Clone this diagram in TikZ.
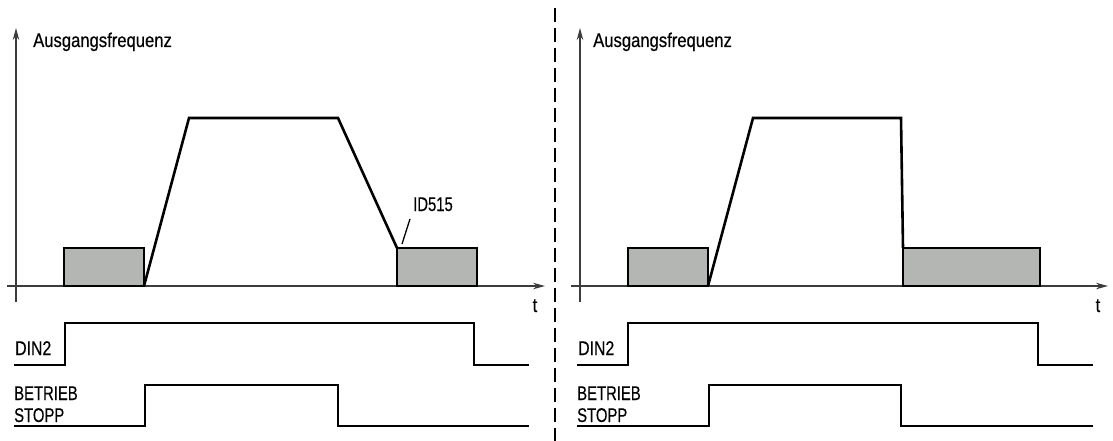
\documentclass[tikz,border=0pt]{standalone}
\usepackage{fontspec}
\setmainfont{Liberation Sans}
\newfontfamily\lblfont[FakeStretch=0.75,FakeBold=0.4]{Liberation Sans}
\newfontfamily\dinfont[FakeStretch=0.8,FakeBold=0.4]{Liberation Sans}
\newfontfamily\ttlfont[FakeStretch=0.84,FakeBold=0.4]{Liberation Sans}
\usetikzlibrary{arrows.meta}
\definecolor{boxgray}{RGB}{180,182,180}
\definecolor{axisgray}{RGB}{60,60,60}
\begin{document}
\begin{tikzpicture}[x=1pt,y=-1pt,
  axis/.style={draw=axisgray, line width=1.3pt, -{Stealth[length=12pt,width=6.5pt]}},
  sig/.style={draw=black, line width=2.6pt, line join=miter},
  tbox/.style={fill=boxgray, draw=black, line width=2.6pt},
  lbl/.style={font=\lblfont\fontsize{19.8}{21}\selectfont, inner sep=0pt, anchor=base west},
  dinlbl/.style={font=\dinfont\fontsize{19.8}{21}\selectfont, inner sep=0pt, anchor=base west},
  ttl/.style={font=\ttlfont\fontsize{19.8}{21}\selectfont, inner sep=0pt, anchor=base west},
  tlbl/.style={font=\ttlfont\fontsize{19.8}{21}\selectfont, inner sep=0pt, anchor=base},
  divider/.style={draw=black, line width=1.5pt, dash pattern=on 14pt off 6pt},
  leader/.style={draw=black, line width=1.3pt}]
\useasboundingbox (0,0) rectangle (1113,441);

% ---------- left panel ----------
\coordinate (Ly0) at (16,302);
\coordinate (Ly1) at (16,28);
\coordinate (Lx0) at (7,286);
\coordinate (Lx1) at (545,286);
\draw[axis] (Ly0) -- (Ly1);
\draw[axis] (Lx0) -- (Lx1);
\node[ttl] (Lfreq) at (33,47) {Ausgangsfrequenz};
\node[tlbl] (Lt) at (535,312) {t};

\draw[tbox] (64,248) rectangle (144,286);
\draw[tbox] (397,248) rectangle (477,286);
\draw[sig] (144,286) -- (189,118) -- (338,118) -- (397,248);

\node[lbl] (Lid) at (413,211) {ID515};
\coordinate (LidA) at (410,219);
\coordinate (LidB) at (402,244);
\draw[leader] (LidA) -- (LidB);

\node[dinlbl] (Ldin) at (15,355) {DIN2};
\draw[sig] (14,365) -- (65,365) -- (65,323) -- (474,323) -- (474,365) -- (529,365);

\node[lbl] (Lbet) at (14,400) {BETRIEB};
\node[lbl] (Lstp) at (14,422) {STOPP};
\draw[sig] (14,426) -- (145,426) -- (145,385) -- (338,385) -- (338,426) -- (529,426);

% ---------- divider ----------
\coordinate (Dtop) at (555,8);
\coordinate (Dbot) at (555,441);
\draw[divider] (Dtop) -- (Dbot);

% ---------- right panel ----------
\coordinate (Ry0) at (580,302);
\coordinate (Ry1) at (580,28);
\coordinate (Rx0) at (571,286);
\coordinate (Rx1) at (1108,286);
\draw[axis] (Ry0) -- (Ry1);
\draw[axis] (Rx0) -- (Rx1);
\node[ttl] (Rfreq) at (593,47) {Ausgangsfrequenz};
\node[tlbl] (Rt) at (1098,312) {t};

\draw[tbox] (628,248) rectangle (708,286);
\draw[tbox] (903,248) rectangle (1040,286);
\draw[sig] (708,286) -- (753,118) -- (901,118) -- (903,248);

\node[dinlbl] (Rdin) at (578,355) {DIN2};
\draw[sig] (577,365) -- (628,365) -- (628,323) -- (1038,323) -- (1038,365) -- (1093,365);

\node[lbl] (Rbet) at (577,400) {BETRIEB};
\node[lbl] (Rstp) at (577,422) {STOPP};
\draw[sig] (577,426) -- (709,426) -- (709,385) -- (901,385) -- (901,426) -- (1093,426);
\end{tikzpicture}
\end{document}
